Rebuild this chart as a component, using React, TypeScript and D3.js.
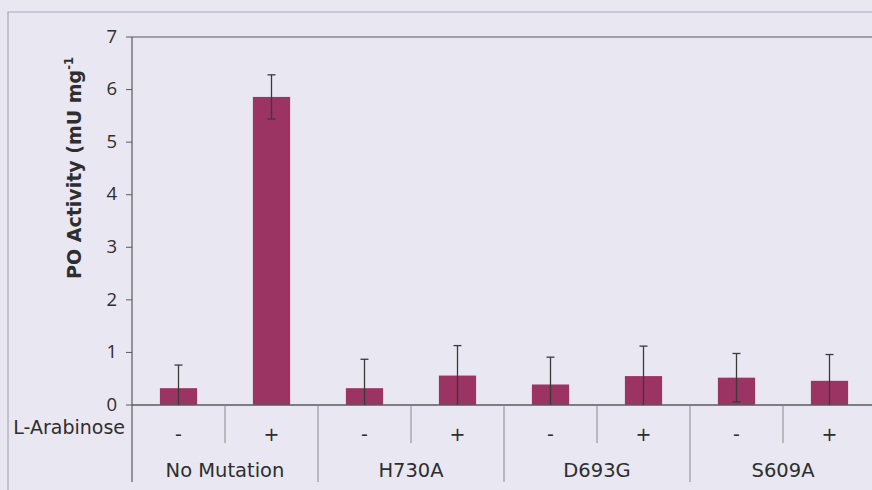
import React from "react";
import * as d3 from "d3";

const groups = ["No Mutation", "H730A", "D693G", "S609A"];
const arabinose = ["-", "+", "-", "+", "-", "+", "-", "+"];
const values = [0.32, 5.86, 0.32, 0.56, 0.39, 0.55, 0.52, 0.46];
const errors = [0.44, 0.42, 0.55, 0.57, 0.52, 0.57, 0.46, 0.5];
const yTicks = [0, 1, 2, 3, 4, 5, 6, 7];

const W = 872;
const H = 490;
const plotLeft = 132;
const plotRight = 876;
const plotTop = 37;
const plotBottom = 405;

export default function App() {
  const slots = values.map((_, i) => i);
  const x = d3
    .scaleBand<number>()
    .domain(slots)
    .range([plotLeft, plotRight])
    .paddingInner(0.6)
    .paddingOuter(0.3);
  const y = d3.scaleLinear().domain([0, 7]).range([plotBottom, plotTop]);
  const axisColor = "#5a5a5a";
  const textColor = "#2e2e2e";
  const barColor = "#9b3462";
  const slotW = (plotRight - plotLeft) / values.length;
  const slotStart = (i: number) => plotLeft + i * slotW;

  return (
    <svg
      width={W}
      height={H}
      style={{ position: "absolute", left: 0, top: 0 }}
    >
      <rect x={0} y={0} width={W} height={H} fill="#e9e7f1" />
      {/* outer border */}
      <path d={`M8,${H} V12 H${W}`} fill="none" stroke="#a9a7b6" strokeWidth={1.2} />
      {/* plot frame top and left */}
      <line x1={plotLeft} x2={W} y1={plotTop} y2={plotTop} stroke={axisColor} strokeWidth={1.2} />
      <line x1={plotLeft} x2={plotLeft} y1={plotTop} y2={482} stroke={axisColor} strokeWidth={1.2} />
      {/* y ticks */}
      {yTicks.map((t) => (
        <g key={t}>
          <line x1={plotLeft - 6} x2={plotLeft} y1={y(t)} y2={y(t)} stroke={axisColor} strokeWidth={1} />
          <text
            x={117}
            y={y(t) - 1}
            dy="0.36em"
            textAnchor="end"
            fontFamily="'Open Sans', sans-serif"
            fontSize={18.5}
            fill={textColor}
          >
            {t}
          </text>
        </g>
      ))}
      {/* y label */}
      <text
        transform={`translate(81,168) rotate(-90)`}
        textAnchor="middle"
        fontFamily="'DejaVu Sans', sans-serif"
        fontWeight="bold"
        fontSize={19}
        fill={textColor}
      >
        PO Activity (mU mg
        <tspan fontSize={11.5} dy={-8}>-1</tspan>
      </text>
      {/* bars */}
      {values.map((v, i) => (
        <rect
          key={i}
          x={x(i)}
          y={y(v)}
          width={x.bandwidth()}
          height={y(0) - y(v)}
          fill={barColor}
        />
      ))}
      {/* x axis */}
      <line x1={plotLeft} x2={W} y1={plotBottom} y2={plotBottom} stroke={axisColor} strokeWidth={1.5} />
      {/* error bars */}
      {values.map((v, i) => {
        const cx = (x(i) as number) + x.bandwidth() / 2;
        const hi = v + errors[i];
        const lo = Math.max(0, v - errors[i]);
        return (
          <g key={i} stroke="#3a3a3a" strokeWidth={1.3}>
            <line x1={cx} x2={cx} y1={y(hi)} y2={y(lo)} />
            <line x1={cx - 4} x2={cx + 4} y1={y(hi)} y2={y(hi)} />
            {lo > 0 && <line x1={cx - 4} x2={cx + 4} y1={y(lo)} y2={y(lo)} />}
          </g>
        );
      })}
      {/* separators */}
      {slots.slice(1).map((i) => (
        <line
          key={i}
          x1={slotStart(i)}
          x2={slotStart(i)}
          y1={plotBottom}
          y2={i % 2 === 0 ? 482 : 443}
          stroke="#8a8a8a"
          strokeWidth={1}
        />
      ))}
      {/* +/- labels */}
      {arabinose.map((s, i) => (
        <text
          key={i}
          x={slotStart(i) + slotW / 2}
          y={434}
          dy="0.36em"
          textAnchor="middle"
          fontFamily="'DejaVu Sans', sans-serif"
          fontSize={19}
          fill={textColor}
        >
          {s}
        </text>
      ))}
      <text
        x={125}
        y={427}
        dy="0.36em"
        textAnchor="end"
        fontFamily="'DejaVu Sans', sans-serif"
        fontSize={19}
        fill={textColor}
      >
        L-Arabinose
      </text>
      {groups.map((g, gi) => (
        <text
          key={g}
          x={slotStart(gi * 2) + slotW}
          y={470}
          dy="0.36em"
          textAnchor="middle"
          fontFamily="'DejaVu Sans', sans-serif"
          fontSize={19.5}
          fill={textColor}
        >
          {g}
        </text>
      ))}
    </svg>
  );
}
